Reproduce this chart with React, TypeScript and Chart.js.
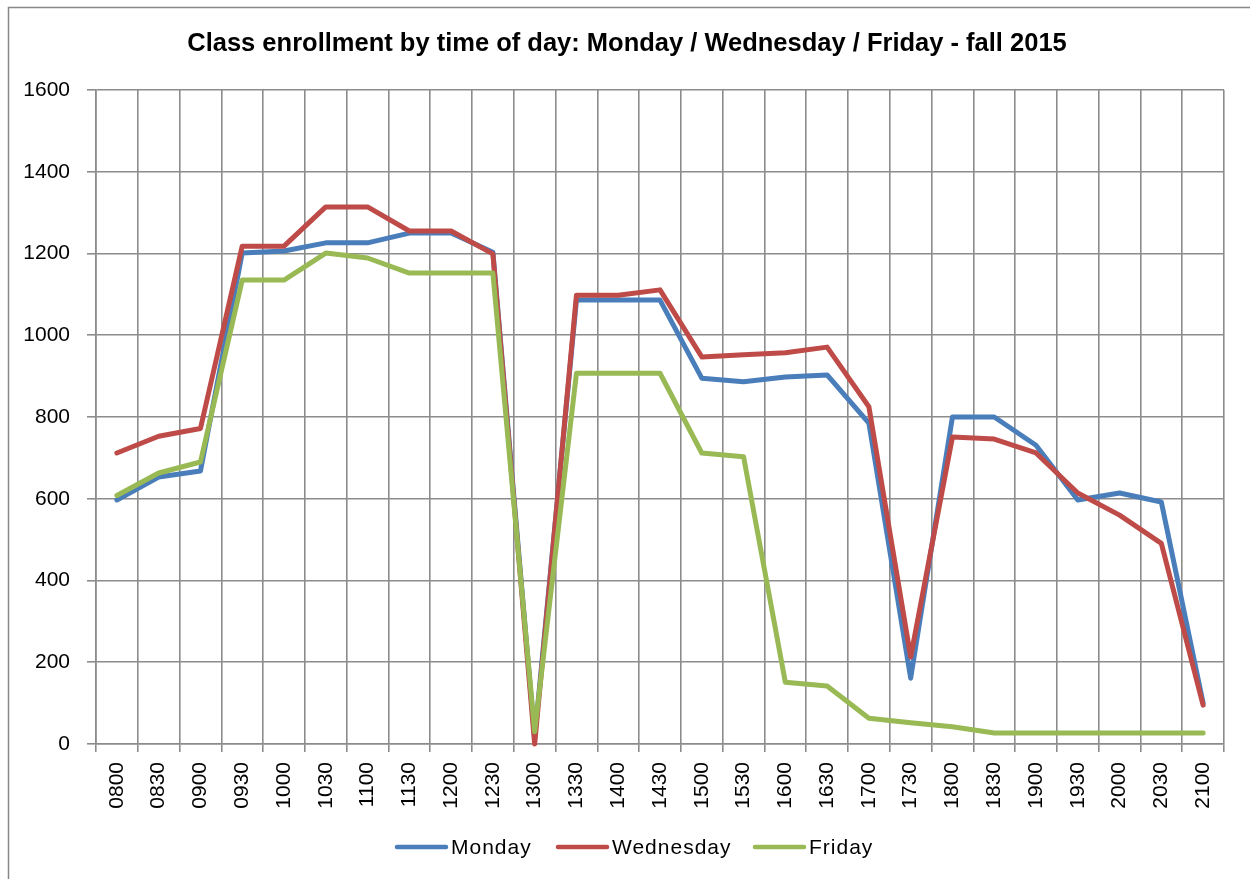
import React, { useEffect, useRef } from "react";
import { Chart, registerables } from "chart.js";

Chart.register(...registerables);

const TITLE = "Class enrollment by time of day: Monday / Wednesday / Friday - fall 2015";

const times = [
  "0800", "0830", "0900", "0930", "1000", "1030", "1100", "1130", "1200", "1230",
  "1300", "1330", "1400", "1430", "1500", "1530", "1600", "1630", "1700", "1730",
  "1800", "1830", "1900", "1930", "2000", "2030", "2100",
];

const monday = [
  597, 653, 668, 1201, 1206, 1226, 1226, 1250, 1250, 1203,
  15, 1086, 1086, 1086, 895, 886, 898, 903, 785, 161,
  800, 800, 731, 597, 614, 592, 100,
];

const wednesday = [
  712, 753, 772, 1218, 1218, 1314, 1314, 1255, 1255, 1199,
  0, 1098, 1098, 1111, 947, 952, 957, 971, 825, 213,
  751, 746, 712, 614, 560, 491, 95,
];

const friday = [
  608, 663, 690, 1135, 1135, 1201, 1189, 1152, 1152, 1152,
  30, 907, 907, 907, 712, 703, 151, 142, 63, 52,
  42, 27, 27, 27, 27, 27, 27,
];

const seriesNames = ["Monday", "Wednesday", "Friday"];
const seriesColors = ["#4A7EBB", "#BE4B48", "#98B954"];
const legendX = [397, 558, 755];

const W = 1250;
const H = 879;
const FONT = "'Liberation Sans', Arial, sans-serif";
const GRID = "#8c8c8c";

const decorPlugin = {
  id: "decor",
  beforeDraw(chart: any) {
    const ctx = chart.ctx;
    ctx.save();
    ctx.fillStyle = "#ffffff";
    ctx.fillRect(0, 0, W, H);
    ctx.strokeStyle = "#878787";
    ctx.lineWidth = 1.5;
    ctx.strokeRect(8.5, 7.5, W + 20, H + 20);
    ctx.restore();
  },
  afterDraw(chart: any) {
    const ctx = chart.ctx;
    ctx.save();
    // title
    ctx.fillStyle = "#000000";
    ctx.font = `bold 25.5px ${FONT}`;
    ctx.textAlign = "center";
    ctx.textBaseline = "middle";
    ctx.fillText(TITLE, 627, 44);
    // legend
    ctx.font = `21px ${FONT}`;
    ctx.textAlign = "left";
    ctx.lineCap = "round";
    if ("letterSpacing" in ctx) (ctx as any).letterSpacing = "1px";
    seriesNames.forEach((name, i) => {
      const x = legendX[i];
      ctx.strokeStyle = seriesColors[i];
      ctx.lineWidth = 4.5;
      ctx.beginPath();
      ctx.moveTo(x, 847);
      ctx.lineTo(x + 49, 847);
      ctx.stroke();
      ctx.fillStyle = "#000000";
      ctx.fillText(name, x + 54, 848);
    });
    ctx.restore();
  },
};

export default function App() {
  const ref = useRef<HTMLCanvasElement | null>(null);

  useEffect(() => {
    if (!ref.current) return;
    const seriesData = [monday, wednesday, friday];
    const chart = new Chart(ref.current, {
      type: "line",
      data: {
        labels: times,
        datasets: seriesNames.map((name, i) => ({
          label: name,
          data: seriesData[i],
          borderColor: seriesColors[i],
          backgroundColor: seriesColors[i],
          borderWidth: 5,
          pointRadius: 0,
          pointHoverRadius: 0,
          tension: 0,
          borderCapStyle: "round" as const,
          borderJoinStyle: "round" as const,
          order: 2 - i,
          clip: 6,
        })),
      },
      options: {
        responsive: false,
        animation: false,
        events: [],
        layout: { padding: { top: 90, left: 0, right: W - 1224, bottom: 0 } },
        plugins: {
          legend: { display: false },
          title: { display: false },
          tooltip: { enabled: false },
        },
        scales: {
          x: {
            type: "category",
            offset: true,
            afterFit(scale: any) {
              scale.height = H - 744;
            },
            grid: {
              offset: true,
              color: GRID,
              lineWidth: 1.6,
              tickLength: 8,
              drawTicks: true,
            },
            border: { color: GRID, width: 1.6 },
            ticks: {
              minRotation: 90,
              maxRotation: 90,
              autoSkip: false,
              padding: 10,
              color: "#000000",
              font: { family: FONT, size: 21 },
            },
          },
          y: {
            min: 0,
            max: 1600,
            afterFit(scale: any) {
              scale.width = 96;
            },
            grid: {
              color: GRID,
              lineWidth: 1.6,
              tickLength: 9,
            },
            border: { color: GRID, width: 1.6 },
            ticks: {
              stepSize: 200,
              padding: 17,
              color: "#000000",
              font: { family: FONT, size: 21 },
              callback: (v: any) => String(v),
            },
          },
        },
      },
      plugins: [decorPlugin],
    });
    return () => chart.destroy();
  }, []);

  return (
    <div style={{ position: "absolute", left: 0, top: 0, width: W, height: H, background: "#fff" }}>
      <canvas ref={ref} width={W} height={H} style={{ display: "block", width: W, height: H }} />
    </div>
  );
}
